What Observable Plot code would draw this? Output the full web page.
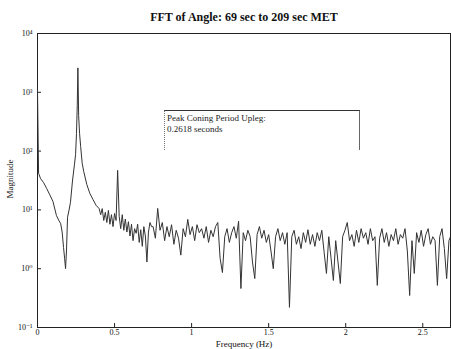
<!DOCTYPE html>
<html>
<head>
<meta charset="utf-8">
<script src="https://cdn.jsdelivr.net/npm/d3@7"></script>
<script src="https://cdn.jsdelivr.net/npm/@observablehq/plot@0.6"></script>
<style>
  body { margin: 0; background: #fff; }
  #wrap { position: relative; width: 451px; height: 349px; }
  #note {
    position: absolute; left: 164px; top: 110px; width: 196px; height: 40px;
    border-top: 1px solid #333; border-left: 1px dotted #777; border-right: 1px solid #666;
    font-family: "Liberation Serif", "DejaVu Serif", serif; font-size: 9px; color: #222;
    line-height: 11px; padding: 2px 0 0 2px; box-sizing: border-box;
  }
</style>
</head>
<body>
<div id="wrap"><div id="note">Peak Coning Period Upleg:<br>0.2618 seconds</div></div>
<script>
const title = "FFT of Angle: 69 sec to 209 sec MET";
const xLabel = "Frequency (Hz)";
const yLabel = "Magnitude";
const xTicks = [0, 0.5, 1, 1.5, 2, 2.5];
const yTicks = [0.1, 1, 10, 100, 1000, 10000];
const yTickLabels = ["10\u207B\u00B9", "10\u2070", "10\u00B9", "10\u00B2", "10\u00B3", "10\u2074"];

const freq = [
  0, 0.007, 0.02, 0.04, 0.06, 0.08, 0.10, 0.123, 0.14, 0.15, 0.16, 0.169, 0.176, 0.182, 0.188, 0.195,
  0.205, 0.214, 0.227, 0.24, 0.247, 0.253, 0.258, 0.262, 0.267, 0.273, 0.28, 0.29, 0.30, 0.32, 0.34,
  0.36, 0.38, 0.40,
  0.41, 0.42, 0.43, 0.44, 0.45, 0.46, 0.47, 0.48, 0.49, 0.50, 0.51, 0.52, 0.53, 0.54, 0.55, 0.56,
  0.57, 0.58, 0.59, 0.60, 0.61, 0.62, 0.63, 0.64, 0.65, 0.66, 0.67, 0.68, 0.69, 0.70, 0.71, 0.72,
  0.73, 0.74,
  0.750, 0.765, 0.780, 0.795, 0.810, 0.825, 0.840, 0.855, 0.870, 0.885, 0.900, 0.915, 0.930, 0.945,
  0.960, 0.975, 0.990, 1.005, 1.020, 1.035, 1.050, 1.065, 1.080, 1.095, 1.110, 1.125, 1.140, 1.155,
  1.170, 1.185, 1.200, 1.215, 1.230, 1.245, 1.260, 1.275, 1.290, 1.305, 1.320, 1.335, 1.350, 1.365,
  1.380, 1.395, 1.410, 1.425, 1.440, 1.455, 1.470, 1.485, 1.500, 1.515, 1.530, 1.545, 1.560, 1.575,
  1.590, 1.605, 1.620, 1.635, 1.650, 1.665, 1.680, 1.695, 1.710, 1.725, 1.740, 1.755, 1.770, 1.785,
  1.800, 1.815, 1.830, 1.845, 1.860, 1.875, 1.890, 1.905, 1.920, 1.935, 1.950, 1.965, 1.980, 1.995,
  2.010, 2.025, 2.040, 2.055, 2.070, 2.085, 2.100, 2.115, 2.130, 2.145, 2.160, 2.175, 2.190, 2.205,
  2.220, 2.235, 2.250, 2.265, 2.280, 2.295, 2.310, 2.325, 2.340, 2.355, 2.370, 2.385, 2.400, 2.415,
  2.430, 2.445, 2.460, 2.475, 2.490, 2.505, 2.520, 2.535, 2.550, 2.565, 2.580, 2.595, 2.610, 2.625,
  2.640, 2.655, 2.670, 2.680
];

const magnitude = [
  1100, 42, 34, 29, 23, 18, 14, 8, 6.5, 5.9, 4.2, 2.3, 1.5, 1.0, 2.0, 7.5,
  10, 13.5, 31, 60, 87, 200, 600, 2600, 400, 200, 120, 62, 45, 27, 19,
  15, 12, 10.5,
  8.3, 10.5, 6.6, 9.1, 6.1, 9.8, 5.7, 8.3, 5.2, 8.7, 6.6, 47, 7.8, 4.8, 8.3, 4.5,
  7.0, 4.2, 6.3, 3.6, 5.7, 3.0, 4.8, 4.0, 5.7, 2.8, 4.6, 2.4, 5.2, 3.6, 1.3, 4.2,
  6.1, 5.2,
  5.2, 3.3, 10.6, 4.5, 6.1, 3.0, 5.2, 3.5, 5.6, 2.6, 4.5, 3.3, 1.7, 4.8,
  3.5, 6.9, 3.8, 5.2, 3.0, 5.6, 4.1, 4.8, 3.3, 5.2, 2.8, 4.5, 3.5, 5.2,
  6.1, 1.5, 0.86, 3.5, 4.8, 2.8, 4.1, 5.2, 3.3, 6.4, 0.46, 4.1, 3.0, 4.5,
  3.5, 1.3, 0.68, 3.8, 5.2, 3.3, 4.5, 2.8, 3.8, 2.0, 1.0, 3.5, 4.8, 3.0,
  4.1, 2.6, 4.1, 0.22, 3.5, 4.5, 2.6, 3.5, 2.2, 4.1, 2.8, 4.6, 2.6, 3.8,
  2.4, 4.1, 3.0, 4.5, 1.9, 0.83, 3.5, 1.5, 0.63, 3.0, 1.3, 0.56, 3.5, 4.5,
  6.1, 3.0, 3.8, 2.4, 4.5, 2.8, 4.8, 3.3, 4.1, 2.6, 4.8, 3.0, 3.5, 0.52,
  3.3, 4.8, 2.8, 4.1, 2.4, 3.8, 3.0, 4.8, 2.6, 3.8, 3.3, 4.8, 2.0, 0.35,
  3.0, 0.83, 4.1, 2.8, 4.5, 2.4, 3.8, 4.8, 2.6, 3.5, 3.0, 0.52, 3.5, 4.8,
  2.2, 0.68, 3.0, 3.5
];

const data = freq.map((f, i) => ({f, m: magnitude[i]}));
const serif = "Liberation Serif, DejaVu Serif, serif";

const chart = Plot.plot({
  width: 451,
  height: 349,
  marginTop: 33,
  marginBottom: 22,
  marginLeft: 37,
  marginRight: 1,
  style: {fontFamily: serif, fontSize: "8px", color: "#111", background: "#fff"},
  x: {domain: [0, 2.68], ticks: xTicks, tickFormat: d => String(d), label: null},
  y: {type: "log", domain: [0.1, 10000], ticks: yTicks,
      tickFormat: d => yTickLabels[yTicks.indexOf(d)], label: null},
  marks: [
    Plot.frame({stroke: "#222"}),
    Plot.axisX({ticks: xTicks, tickSize: -4, tickPadding: 6, tickFormat: d => String(d), label: null, stroke: "#222"}),
    Plot.axisY({ticks: yTicks, tickSize: -4, tickPadding: 9, tickFormat: d => yTickLabels[yTicks.indexOf(d)], label: null, stroke: "#222"}),
    Plot.line(data, {x: "f", y: "m", stroke: "#333", strokeWidth: 1, clip: true}),
    Plot.text([title], {frameAnchor: "top", dy: -21, fontWeight: "bold", fontSize: 12, fontFamily: serif, fill: "#111"}),
    Plot.text([xLabel], {frameAnchor: "bottom", dy: 17, lineAnchor: "top", dy: 13, fontSize: 9, fontFamily: serif, fill: "#111"}),
    Plot.text([yLabel], {frameAnchor: "left", dx: -27, dy: 18, rotate: -90, fontSize: 9, fontFamily: serif, fill: "#111"})
  ]
});
document.getElementById("wrap").prepend(chart);
</script>
</body>
</html>
